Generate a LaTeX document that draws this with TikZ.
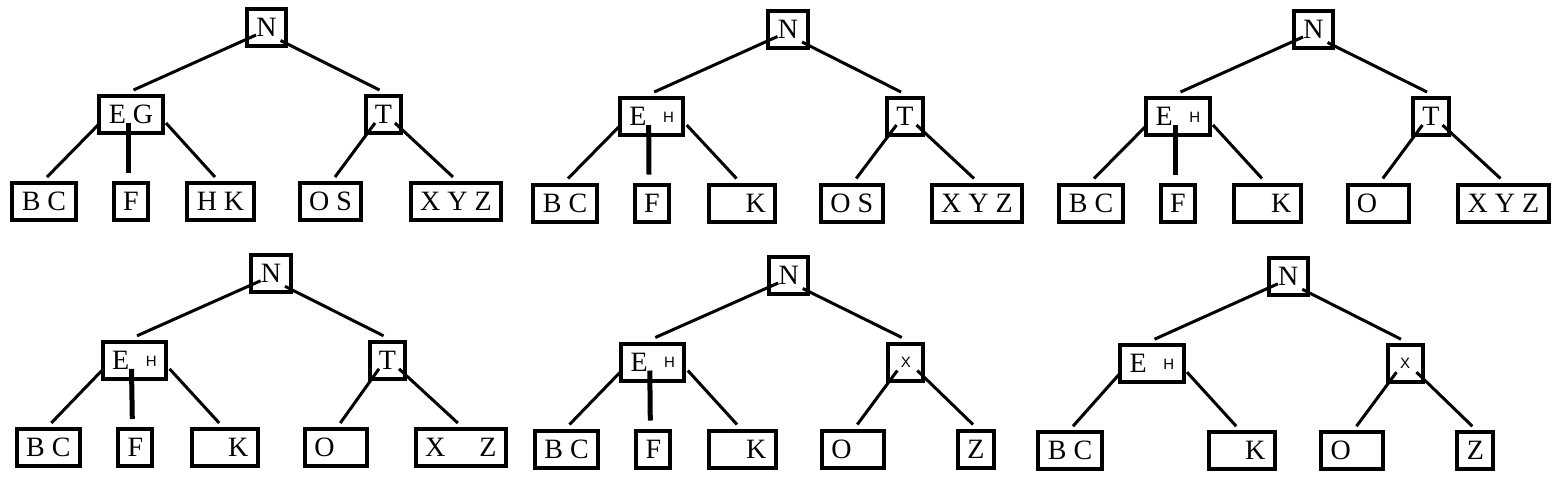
\documentclass[tikz,border=0pt]{standalone}
\usepackage{fontspec}
\setmainfont{Liberation Serif}
\newfontfamily\petit{Liberation Sans}

\tikzstyle{boite}=[draw,line width=2pt,minimum height=18.5pt,inner xsep=4.7pt,inner ysep=0pt,text depth=0pt,font=\fontsize{14}{16}\selectfont]
\tikzstyle{trait}=[line width=1.5pt]
\tikzstyle{tige}=[line width=2.5pt]
\newcommand{\pH}{{\petit\fontsize{7.5}{8}\selectfont H}}
\newcommand{\pX}{{\petit\fontsize{7.5}{8}\selectfont X}}

\begin{document}
\begin{tikzpicture}[x=0.5pt,y=-0.5pt]
\useasboundingbox (0,0) rectangle (1560,479);
% arbre 1
\node[boite] (N1) at (266.5,27.5) {N};
\node[boite] (L1) at (131,114.5) {E G};
\node[boite] (R1) at (383.5,114.5) {T};
\node[boite] (A1) at (44,201.5) {B C};
\node[boite] (B1) at (131,201.5) {F};
\node[boite] (C1) at (220.5,201.5) {H K};
\node[boite] (D1) at (330.5,201.5) {O S};
\node[boite] (E1) at (456,201.5) {X Y Z};
% arbre 2
\node[boite] (N2) at (788,29) {N};
\node[boite] (L2) at (651.7,116.5) {E\hspace{8.3pt}\raisebox{1.6pt}{\pH}};
\node[boite] (R2) at (905,116.5) {T};
\node[boite] (A2) at (565,203) {B C};
\node[boite] (B2) at (652,203) {F};
\node[boite] (C2) at (742,203) {\phantom{H} K};
\node[boite] (D2) at (851.7,203) {O S};
\node[boite] (E2) at (977,203) {X Y Z};
% arbre 3
\node[boite] (N3) at (1313.5,29.5) {N};
\node[boite] (L3) at (1178,116.5) {E\hspace{8.3pt}\raisebox{1.6pt}{\pH}};
\node[boite] (R3) at (1431,116.5) {T};
\node[boite] (A3) at (1091,203) {B C};
\node[boite] (B3) at (1178,203) {F};
\node[boite] (C3) at (1267.5,203) {\phantom{H} K};
\node[boite] (D3) at (1378.3,203) {O\phantom{ S}};
\node[boite] (E3) at (1503.5,203) {X Y Z};
% arbre 4
\node[boite] (N4) at (271,273.3) {N};
\node[boite] (L4) at (134.5,360.3) {E\hspace{8.3pt}\raisebox{1.6pt}{\pH}};
\node[boite] (R4) at (387.5,360.3) {T};
\node[boite] (A4) at (48.3,447.5) {B C};
\node[boite] (B4) at (135.3,447.5) {F};
\node[boite] (C4) at (224.7,447.5) {\phantom{H} K};
\node[boite] (D4) at (335.8,447.5) {O\phantom{ S}};
\node[boite] (E4) at (460.8,447.5) {X\phantom{ Y} Z};
% arbre 5
\node[boite] (N5) at (788.7,275.5) {N};
\node[boite] (L5) at (652.8,362) {E\hspace{8.3pt}\raisebox{1.6pt}{\pH}};
\node[boite,minimum width=17.5pt] (R5) at (905.8,362) {\pX};
\node[boite] (A5) at (566.5,449) {B C};
\node[boite] (B5) at (653.3,449) {F};
\node[boite] (C5) at (742.5,449) {\phantom{H} K};
\node[boite] (D5) at (852.8,449) {O\phantom{ S}};
\node[boite] (E5) at (976,449) {Z};
% arbre 6
\node[boite] (N6) at (1288.3,276.3) {N};
\node[boite] (L6) at (1152,363.7) {E\hspace{8.3pt}\raisebox{1.6pt}{\pH}};
\node[boite,minimum width=17.5pt] (R6) at (1405,363.7) {\pX};
\node[boite] (A6) at (1070,450.7) {B C};
\node[boite] (C6) at (1241.7,450.7) {\phantom{H} K};
\node[boite] (D6) at (1352,450.7) {O\phantom{ S}};
\node[boite] (E6) at (1475.3,450.7) {Z};
% liens
\foreach \i in {1,...,6}{
\draw[trait] ([shift={(-10.5,7.5)}]N\i.center) -- ([shift={(2.5,-24.5)}]L\i.center);
\draw[trait] ([shift={(14,13)}]N\i.center) -- ([shift={(-4,-24.5)}]R\i.center);
\draw[trait] ([shift={(-31,8.5)}]L\i.center) -- ([shift={(3,-24.5)}]A\i.center);
\draw[trait] ([shift={(35,8.5)}]L\i.center) -- ([shift={(-5.5,-24.5)}]C\i.center);
\draw[trait] ([shift={(-8.5,8.5)}]R\i.center) -- ([shift={(4.5,-24.5)}]D\i.center);
\draw[trait] ([shift={(11.5,8.5)}]R\i.center) -- ([shift={(-3,-24.5)}]E\i.center);
}
\foreach \i in {1,...,5}
\draw[tige] ([shift={(-3,8.5)}]L\i.center) -- ([shift={(-3,-28.5)}]B\i.center);
\end{tikzpicture}
\end{document}
